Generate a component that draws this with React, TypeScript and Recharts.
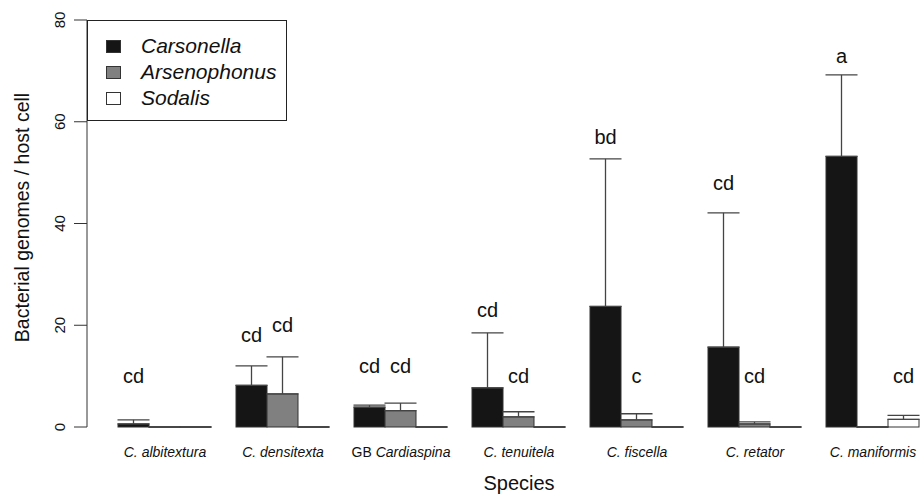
import { BarChart, Bar, XAxis, YAxis, ErrorBar, LabelList, Legend, Label } from 'recharts';

const species = ['C. albitextura', 'C. densitexta', 'GB Cardiaspina', 'C. tenuitela', 'C. fiscella', 'C. retator', 'C. maniformis'];
const seriesNames = ['Carsonella', 'Arsenophonus', 'Sodalis'];
const carsonella = [0.6, 8.2, 3.9, 7.7, 23.7, 15.7, 53.2];
const carsonellaSE = [0.8, 3.8, 0.4, 10.8, 29.0, 26.4, 16.0];
const arsenophonus = [0, 6.5, 3.2, 2.0, 1.4, 0.6, 0];
const arsenophonusSE = [0, 7.3, 1.5, 1.0, 1.2, 0.4, 0];
const sodalis = [0, 0, 0, 0, 0, 0, 1.5];
const sodalisSE = [0, 0, 0, 0, 0, 0, 0.8];

// significance letters and the height (genomes / cell) they are written at
const carsonellaLetters = ['cd', 'cd', 'cd', 'cd', 'bd', 'cd', 'a'];
const carsonellaLetterY = [10, 18, 12, 23, 57, 48, 73];
const arsenophonusLetters = ['', 'cd', 'cd', 'cd', 'c', 'cd', ''];
const arsenophonusLetterY = [0, 20, 12, 10, 10, 10, 0];
const sodalisLetters = ['', '', '', '', '', '', 'cd'];
const sodalisLetterY = [0, 0, 0, 0, 0, 0, 10];

const yTicks = [0, 20, 40, 60, 80];

const data = species.map((s, i) => ({
  species: s,
  Carsonella: carsonella[i],
  cErr: [0, carsonellaSE[i]],
  Arsenophonus: arsenophonus[i],
  aErr: [0, arsenophonusSE[i]],
  Sodalis: sodalis[i],
  sErr: [0, sodalisSE[i]],
  cLetter: carsonellaLetters[i],
  cLetterY: carsonellaLetters[i] ? carsonellaLetterY[i] : null,
  aLetter: arsenophonusLetters[i],
  aLetterY: arsenophonusLetters[i] ? arsenophonusLetterY[i] : null,
  sLetter: sodalisLetters[i],
  sLetterY: sodalisLetters[i] ? sodalisLetterY[i] : null,
}));

const ink = '#111';

const BarShape = (props: any) => {
  const { x, y, width, height, fill } = props;
  if (!height) {
    return <line x1={x} x2={x + width} y1={y} y2={y} stroke="#222" strokeWidth={1.3} />;
  }
  return <rect x={x} y={y} width={width} height={height} fill={fill} stroke="#333" strokeWidth={1} />;
};

const SpeciesTick = ({ x, y, payload }: any) => {
  const name: string = payload.value;
  const gb = name.startsWith('GB ');
  return (
    <text x={x} y={y + 22} textAnchor="middle" fontSize={14} fill={ink}>
      {gb ? (
        <>
          <tspan>GB </tspan>
          <tspan fontStyle="italic">{name.slice(3)}</tspan>
        </>
      ) : (
        <tspan fontStyle="italic">{name}</tspan>
      )}
    </text>
  );
};

const YTick = ({ x, y, payload }: any) => (
  <text transform={`translate(${x - 7},${y}) rotate(-90)`} textAnchor="middle" fontSize={15} fill={ink}>
    {payload.value}
  </text>
);

const YLabel = ({ viewBox }: any) => (
  <text
    transform={`translate(${viewBox.x + 29},${viewBox.y + viewBox.height / 2 - 6}) rotate(-90)`}
    textAnchor="middle"
    fontSize={19.5}
    fill={ink}
  >
    Bacterial genomes / host cell
  </text>
);

const XLabel = ({ viewBox }: any) => (
  <text x={viewBox.x + viewBox.width / 2 + 9.5} y={viewBox.y + 63} textAnchor="middle" fontSize={20} fill={ink}>
    Species
  </text>
);

const LetterLabel = (props: any) => {
  const { value } = props;
  if (!value) return null;
  const vb = props.viewBox ?? props;
  return (
    <text x={vb.x + vb.width / 2} y={vb.y + 7} textAnchor="middle" fontSize={20} fill={ink}>
      {value}
    </text>
  );
};

const LegendBox = ({ payload }: any) => {
  const items = seriesNames
    .map((n) => (payload || []).find((p: any) => p.value === n))
    .filter(Boolean);
  return (
    <div
      style={{
        width: 200,
        height: 101,
        border: '1px solid #222',
        boxSizing: 'border-box',
        background: '#fff',
        paddingTop: 12,
        paddingLeft: 18,
      }}
    >
      {items.map((p: any) => (
        <div key={p.value} style={{ display: 'flex', alignItems: 'center', height: 26 }}>
          <span
            style={{
              width: 15,
              height: 13,
              background: p.color,
              border: '1px solid #333',
              boxSizing: 'border-box',
              display: 'inline-block',
            }}
          />
          <span style={{ marginLeft: 20, fontStyle: 'italic', fontSize: 21, color: ink }}>{p.value}</span>
        </div>
      ))}
    </div>
  );
};

export default function App() {
  return (
    <div
      style={{
        position: 'absolute',
        left: 0,
        top: 0,
        width: 920,
        height: 497,
        overflow: 'hidden',
        background: '#fff',
        fontFamily: '"Liberation Sans", Arial, sans-serif',
      }}
    >
      <BarChart
        width={932}
        height={497}
        data={data}
        margin={{ top: 20, right: 0, bottom: 0, left: 0 }}
        barCategoryGap={12}
        barGap={0}
      >
        <XAxis
          dataKey="species"
          height={70}
          padding={{ left: 19, right: 0 }}
          axisLine={false}
          tickLine={false}
          interval={0}
          tick={<SpeciesTick />}
        >
          <Label content={XLabel} />
        </XAxis>
        <XAxis xAxisId="lab" dataKey="species" hide padding={{ left: 19, right: 0 }} />
        <YAxis
          domain={[0, 80]}
          ticks={yTicks}
          interval={0}
          width={87}
          tickSize={13}
          axisLine={{ stroke: '#333' }}
          tickLine={{ stroke: '#333' }}
          tick={<YTick />}
        >
          <Label content={YLabel} />
        </YAxis>
        <Legend
          layout="vertical"
          align="center"
          verticalAlign="middle"
          content={<LegendBox />}
          wrapperStyle={{ left: 87, top: 20, width: 200, height: 101 }}
        />
        <Bar dataKey="Carsonella" fill="#151515" shape={BarShape} isAnimationActive={false}>
          <ErrorBar dataKey="cErr" direction="y" width={16} stroke="#444" strokeWidth={1.3} isAnimationActive={false} />
        </Bar>
        <Bar dataKey="Arsenophonus" fill="#808080" shape={BarShape} isAnimationActive={false}>
          <ErrorBar dataKey="aErr" direction="y" width={16} stroke="#444" strokeWidth={1.3} isAnimationActive={false} />
        </Bar>
        <Bar dataKey="Sodalis" fill="#ffffff" shape={BarShape} isAnimationActive={false}>
          <ErrorBar dataKey="sErr" direction="y" width={16} stroke="#444" strokeWidth={1.3} isAnimationActive={false} />
        </Bar>
        <Bar xAxisId="lab" dataKey="cLetterY" fill="none" legendType="none" isAnimationActive={false}>
          <LabelList dataKey="cLetter" content={LetterLabel} />
        </Bar>
        <Bar xAxisId="lab" dataKey="aLetterY" fill="none" legendType="none" isAnimationActive={false}>
          <LabelList dataKey="aLetter" content={LetterLabel} />
        </Bar>
        <Bar xAxisId="lab" dataKey="sLetterY" fill="none" legendType="none" isAnimationActive={false}>
          <LabelList dataKey="sLetter" content={LetterLabel} />
        </Bar>
      </BarChart>
    </div>
  );
}
